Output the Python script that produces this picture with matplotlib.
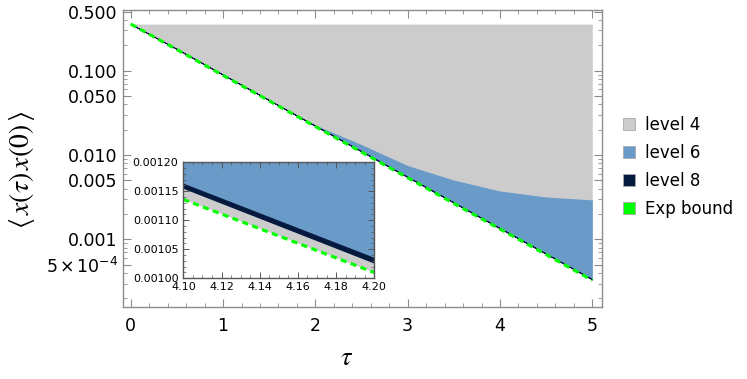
import matplotlib
matplotlib.use("Agg")
import matplotlib.pyplot as plt
import matplotlib.ticker as mticker
from matplotlib.patches import Patch
import numpy as np

plt.rcParams["mathtext.fontset"] = "stix"

# ---- data ----
tau = [0.0, 0.5, 1.0, 1.5, 2.0, 2.5, 3.0, 3.5, 4.0, 4.5, 5.0]
exp_bound = [0.357, 0.1779, 0.0881, 0.0439, 0.02177, 0.01085, 0.00538, 0.00267, 0.001327, 0.000661, 0.000328]
level4_lower = [0.357, 0.1779, 0.0881, 0.0439, 0.02177, 0.01085, 0.00538, 0.00267, 0.001327, 0.000661, 0.000328]
level4_upper = [0.357, 0.357, 0.357, 0.357, 0.357, 0.357, 0.357, 0.357, 0.357, 0.357, 0.357]
level6_lower = [0.357, 0.1800, 0.0893, 0.0445, 0.0221, 0.01102, 0.00547, 0.00272, 0.00135, 0.000673, 0.000334]
level6_upper = [0.357, 0.1800, 0.0895, 0.0448, 0.0226, 0.0133, 0.0075, 0.00505, 0.00375, 0.00318, 0.00294]
level8_lower = [0.357, 0.1800, 0.0893, 0.0445, 0.0221, 0.01102, 0.00547, 0.00272, 0.00135, 0.000673, 0.000334]
level8_upper = [0.357, 0.1815, 0.0900, 0.0449, 0.02230, 0.01112, 0.00552, 0.00275, 0.001362, 0.000680, 0.000338]

inset_tau = [4.10, 4.20]
inset_bound = [0.001136, 0.001010]
inset_level8_lower = [0.001155, 0.001026]
inset_level8_upper = [0.001164, 0.001036]
inset_level6_upper = [0.00340, 0.00335]
inset_level4_upper = [0.357, 0.357]

y_major = [0.5, 0.1, 0.05, 0.01, 0.005, 0.001, 0.0005]
y_major_labels = ["0.500", "0.100", "0.050", "0.010", "0.005", "0.001",
                  r"$\mathdefault{5\times10^{-4}}$"]
legend_labels = ["level 4", "level 6", "level 8", "Exp bound"]

# ---- style ----
c_gray = "#cccccc"
c_blue = "#6a9ac8"
c_navy = "#06193f"
c_green = "#00ff00"
frame_c = "#8c8c8c"

fig = plt.figure(figsize=(7.47, 3.79), dpi=100)
ax = fig.add_axes([0.1643, 0.19, 0.806 - 0.1643, 0.9736 - 0.19])

ax.fill_between(tau, level4_lower, level4_upper, color=c_gray, lw=0)
ax.fill_between(tau, level6_lower, level6_upper, color=c_blue, lw=0)
ax.fill_between(tau, level8_lower, level8_upper, color=c_navy, lw=0.6, edgecolor=c_navy)
ax.plot(tau, exp_bound, color=c_green, lw=2.3, linestyle=(0, (1.9, 1.4)))

ax.set_yscale("log")
ax.set_xlim(-0.087, 5.106)
ax.set_ylim(1.58e-4, 0.524)

ax.xaxis.set_major_locator(mticker.FixedLocator([0, 1, 2, 3, 4, 5]))
ax.xaxis.set_minor_locator(mticker.MultipleLocator(0.2))
ax.yaxis.set_major_locator(mticker.FixedLocator(y_major))
ax.yaxis.set_major_formatter(mticker.FixedFormatter(y_major_labels))
minor_y = []
for dec in [1e-4, 1e-3, 1e-2, 1e-1]:
    for k in range(1, 10):
        v = k * dec
        if not any(abs(v - m) / m < 1e-6 for m in y_major):
            minor_y.append(v)
ax.yaxis.set_minor_locator(mticker.FixedLocator(minor_y))
ax.yaxis.set_minor_formatter(mticker.NullFormatter())

for s in ax.spines.values():
    s.set_color(frame_c)
    s.set_linewidth(1.0)
ax.tick_params(which="both", direction="in", top=True, right=True, color=frame_c,
               labelsize=12.5, labelcolor="black")
ax.tick_params(which="major", length=5.5, width=0.8)
ax.tick_params(which="minor", length=3, width=0.6)
ax.tick_params(axis="x", pad=7)

fig.text(0.4645, 0.0554, r"$\tau$", fontsize=19, ha="center", va="center")
fig.text(0.0295, 0.554, r"$\langle\, x(\tau)\, x(0) \,\rangle$", fontsize=20,
         ha="center", va="center", rotation=90)

# ---- inset ----
axi = fig.add_axes([0.2454, 0.2657, 0.501 - 0.2454, 0.5718 - 0.2657])
axi.set_facecolor("white")
axi.fill_between(inset_tau, inset_bound, inset_level4_upper, color=c_gray, lw=0)
axi.fill_between(inset_tau, inset_level8_lower, inset_level6_upper, color=c_blue, lw=0)
axi.fill_between(inset_tau, inset_level8_lower, inset_level8_upper, color=c_navy, lw=0)
axi.plot(inset_tau, inset_bound, color=c_green, lw=2.3, linestyle=(0, (1.9, 1.4)))
axi.set_xlim(4.10, 4.20)
axi.set_ylim(0.00100, 0.00120)
axi.xaxis.set_major_locator(mticker.MultipleLocator(0.02))
axi.xaxis.set_minor_locator(mticker.MultipleLocator(0.005))
axi.xaxis.set_major_formatter(mticker.FormatStrFormatter("%.2f"))
axi.yaxis.set_major_locator(mticker.MultipleLocator(0.00005))
axi.yaxis.set_minor_locator(mticker.MultipleLocator(0.00001))
axi.yaxis.set_major_formatter(mticker.FormatStrFormatter("%.5f"))
for s in axi.spines.values():
    s.set_color("#555555")
    s.set_linewidth(1.0)
axi.tick_params(which="both", direction="in", top=True, right=True, color="#555555",
                labelsize=8, labelcolor="black")
axi.tick_params(which="major", length=4, width=0.7)
axi.tick_params(which="minor", length=2, width=0.5)
axi.tick_params(axis="x", pad=3)

# ---- legend ----
handles = [Patch(facecolor=c, edgecolor="#aaaaaa", linewidth=0.6)
           for c in [c_gray, c_blue, c_navy, c_green]]
fig.legend(handles, legend_labels, loc="upper left", bbox_to_anchor=(0.834, 0.695),
           frameon=False, fontsize=12, handlelength=0.75, handleheight=0.75,
           handletextpad=0.6, labelspacing=0.6, borderpad=0, borderaxespad=0)

fig.savefig("out.png", dpi=100)
